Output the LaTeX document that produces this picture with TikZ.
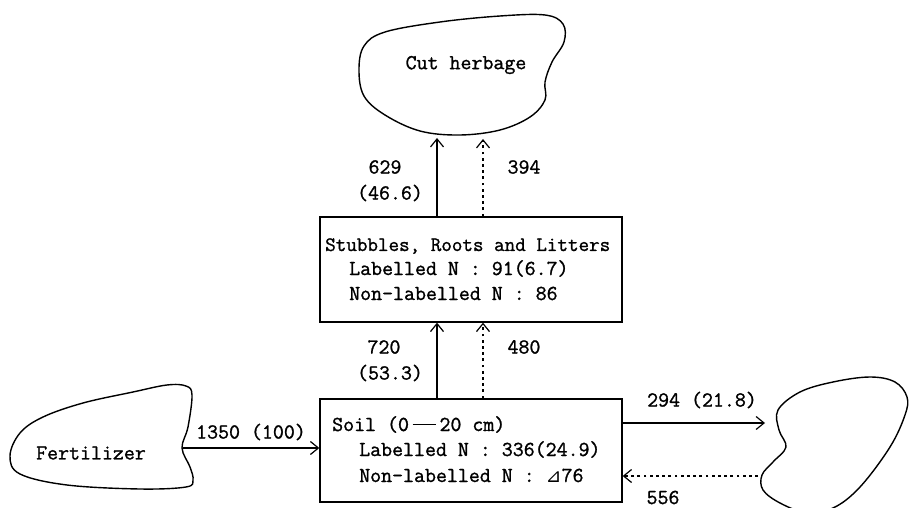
\documentclass[tikz,border=0pt]{standalone}
\usepackage{fontspec}
\usetikzlibrary{arrows.meta}
\newfontfamily\dvs{DejaVu Sans}
\newfontfamily\mono[FakeBold=1.2]{Latin Modern Mono}
\newcommand{\longdash}{\rule[0.27em]{1.1em}{0.07em}}
\begin{document}
\begin{tikzpicture}[x=1pt,y=-1pt,
  txt/.style={inner sep=0pt, font=\mono\fontsize{21.3}{25}\selectfont},
  txtc/.style={inner sep=0pt, font=\mono\fontsize{20.5}{25}\selectfont},
  box/.style={draw, line width=1.3pt, inner sep=0pt},
  blob/.style={draw, line width=1.4pt},
  flow/.style={line width=1.3pt, -{Straight Barb[length=8pt,width=13pt,line width=1.2pt]}},
  back/.style={flow, line width=1.6pt, dash pattern=on 2.8pt off 3.4pt},
]
\useasboundingbox (0,0) rectangle (911,508);

% blobs
\draw[blob] plot[smooth cycle, tension=0.6] coordinates {
  (359,70) (364,46) (385,32) (440,22) (500,16) (545,15) (563,24) (564,42)
  (552,62) (545,82) (545,100) (530,117) (500,130) (460,135) (420,131) (385,115) (364,96)};
\draw[blob] plot[smooth cycle, tension=0.6] coordinates {
  (10,456) (20,433) (43,417) (83,403) (133,392) (167,385) (186,386) (192,395)
  (188,427) (182,448) (190,467) (193,480) (186,487) (140,489) (67,485) (20,474)};
\draw[blob] plot[smooth cycle, tension=0.6] coordinates {
  (778,410) (800,392) (833,382) (870,377) (895,382) (907,397) (905,415)
  (890,447) (860,487) (833,508) (805,512) (780,503) (763,490) (762,475)
  (773,462) (786,447) (779,430)};

\node[txt] (herb) at (466,65) {Cut herbage};
\node[txt] (fert) at (91,453) {Fertilizer};

% boxes
\node[box, minimum width=302pt, minimum height=105pt] (upper) at (471,269.5) {};
\node[box, minimum width=302pt, minimum height=103pt] (lower) at (471,450.5) {};

\node[txtc, anchor=base west] (u1) at (325,251) {Stubbles, Roots and Litters};
\node[txt, anchor=base west] (u2) at (349,275) {Labelled N : 91(6.7)};
\node[txt, anchor=base west] (u3) at (349,300) {Non-labelled N : 86};

\node[txt, anchor=base west] (l1) at (332,431) {Soil (0\,\longdash\,20 cm)};
\node[txt, anchor=base west] (l2) at (359,456) {Labelled N : 336(24.9)};
\node[txt, anchor=base west] (l3) at (359,482) {Non-labelled N : {\dvs\fontsize{19}{22}\selectfont ⊿}76};

% connector anchor points
\coordinate (sx) at (437,0);
\coordinate (dx) at (483,0);
\coordinate (herbS) at (437,138);
\coordinate (herbD) at (483,139);
\coordinate (fertE) at (183,448);
\coordinate (outT) at (765,423);
\coordinate (outS) at (758,476);

\draw[flow] (upper.north -| sx) -- (herbS);
\draw[back] (upper.north -| dx) -- (herbD);
\draw[flow] (lower.north -| sx) -- (upper.south -| sx);
\draw[back] (lower.north -| dx) -- (upper.south -| dx);
\draw[flow] (fertE) -- (fertE -| lower.west);
\draw[flow] (outT -| lower.east) -- (outT);
\draw[back] (outS) -- (outS -| lower.east);

% labels
\node[txt] (a1) at (385,167) {629};
\node[txt] (a2) at (390,193) {(46.6)};
\node[txt] (a3) at (524,167) {394};
\node[txt] (b1) at (384,347) {720};
\node[txt] (b2) at (390,373) {(53.3)};
\node[txt] (b3) at (524,347) {480};
\node[txt] (c1) at (251,432) {1350 (100)};
\node[txt] (c2) at (702,400) {294 (21.8)};
\node[txt, anchor=base] (c3) at (663,504) {556};
\end{tikzpicture}
\end{document}
